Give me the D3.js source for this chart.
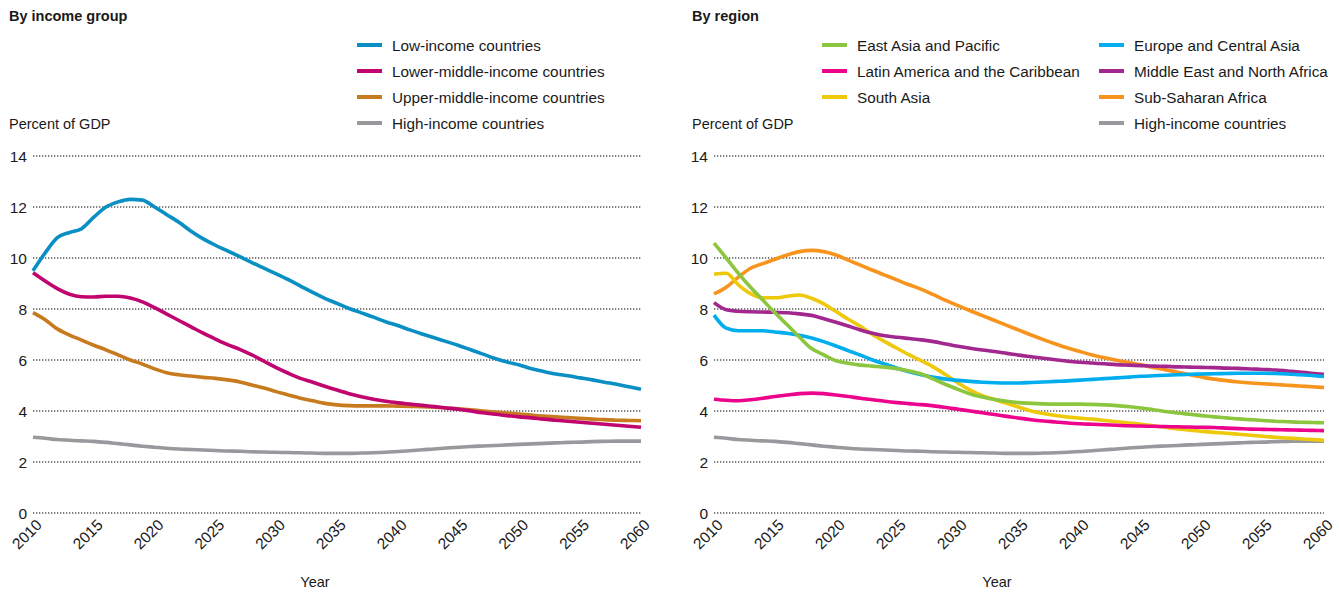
<!DOCTYPE html>
<html><head><meta charset="utf-8">
<script src="https://cdn.jsdelivr.net/npm/d3@7"></script>
<style>
body{margin:0;background:#fff;}
text{font-family:"Liberation Sans",Arial,sans-serif;fill:#1a1a1a;}
</style></head><body>
<svg id="chart" width="1339" height="592"></svg>
<script>
const years = d3.range(2010, 2061);
const yTicks = [0, 2, 4, 6, 8, 10, 12, 14];
const xTicks = [2010, 2015, 2020, 2025, 2030, 2035, 2040, 2045, 2050, 2055, 2060];

const lowIncome = [9.5,10.2,10.8,11.0,11.15,11.6,12.0,12.2,12.3,12.27,12.0,11.7,11.4,11.05,10.75,10.5,10.28,10.05,9.82,9.6,9.38,9.15,8.9,8.65,8.42,8.22,8.02,7.85,7.68,7.5,7.35,7.18,7.02,6.87,6.72,6.57,6.4,6.23,6.06,5.92,5.8,5.66,5.55,5.45,5.38,5.3,5.22,5.13,5.05,4.95,4.85];
const lowerMiddle = [9.42,9.1,8.8,8.58,8.48,8.47,8.5,8.5,8.43,8.28,8.05,7.8,7.55,7.3,7.05,6.82,6.6,6.42,6.2,5.95,5.7,5.48,5.28,5.13,4.97,4.82,4.68,4.56,4.46,4.38,4.32,4.27,4.22,4.17,4.12,4.07,4.0,3.93,3.87,3.82,3.77,3.73,3.68,3.64,3.6,3.56,3.52,3.48,3.44,3.4,3.36];
const upperMiddle = [7.86,7.58,7.22,6.98,6.78,6.58,6.4,6.2,6.0,5.84,5.65,5.5,5.42,5.37,5.32,5.28,5.22,5.14,5.02,4.9,4.76,4.63,4.5,4.4,4.3,4.24,4.21,4.2,4.2,4.2,4.19,4.18,4.17,4.15,4.12,4.09,4.05,4.0,3.96,3.92,3.88,3.84,3.8,3.77,3.74,3.71,3.68,3.66,3.64,3.63,3.62];
const highIncome = [2.97,2.93,2.88,2.85,2.83,2.81,2.77,2.72,2.67,2.62,2.58,2.54,2.51,2.49,2.47,2.45,2.43,2.42,2.4,2.39,2.38,2.37,2.36,2.35,2.34,2.34,2.34,2.35,2.36,2.38,2.41,2.44,2.48,2.51,2.55,2.58,2.61,2.63,2.65,2.67,2.69,2.71,2.73,2.75,2.77,2.78,2.8,2.81,2.82,2.82,2.82];

const eastAsia = [10.58,10.0,9.4,8.85,8.35,7.85,7.38,6.9,6.45,6.2,5.97,5.87,5.8,5.76,5.72,5.66,5.57,5.45,5.25,5.04,4.85,4.67,4.55,4.45,4.38,4.33,4.3,4.28,4.27,4.27,4.27,4.26,4.24,4.21,4.17,4.12,4.05,3.98,3.92,3.87,3.82,3.77,3.73,3.69,3.66,3.63,3.6,3.58,3.56,3.55,3.54];
const europeCA = [7.76,7.25,7.15,7.15,7.15,7.1,7.05,6.97,6.86,6.72,6.55,6.37,6.19,6.0,5.84,5.68,5.54,5.42,5.32,5.25,5.2,5.16,5.13,5.11,5.1,5.1,5.12,5.14,5.16,5.18,5.21,5.24,5.27,5.3,5.33,5.36,5.38,5.4,5.42,5.44,5.45,5.46,5.47,5.48,5.48,5.48,5.47,5.45,5.42,5.39,5.35];
const latinAm = [4.46,4.42,4.4,4.44,4.5,4.57,4.63,4.68,4.7,4.68,4.63,4.57,4.5,4.44,4.38,4.33,4.29,4.25,4.2,4.14,4.07,4.0,3.93,3.86,3.79,3.72,3.66,3.61,3.57,3.53,3.5,3.48,3.46,3.44,3.42,3.41,3.4,3.39,3.38,3.37,3.36,3.35,3.33,3.31,3.29,3.28,3.27,3.26,3.25,3.24,3.23];
const middleEast = [8.25,7.97,7.91,7.89,7.88,7.87,7.85,7.81,7.75,7.62,7.48,7.33,7.18,7.05,6.95,6.89,6.84,6.79,6.72,6.63,6.54,6.46,6.39,6.33,6.26,6.19,6.13,6.07,6.01,5.95,5.91,5.88,5.85,5.82,5.8,5.78,5.76,5.75,5.73,5.72,5.71,5.7,5.68,5.67,5.65,5.63,5.61,5.57,5.53,5.48,5.44];
const southAsia = [9.36,9.4,8.95,8.6,8.44,8.44,8.5,8.55,8.42,8.2,7.9,7.6,7.32,7.0,6.72,6.46,6.2,5.97,5.72,5.42,5.1,4.82,4.6,4.45,4.3,4.15,4.0,3.9,3.82,3.76,3.72,3.68,3.63,3.58,3.53,3.48,3.42,3.36,3.3,3.25,3.2,3.16,3.13,3.09,3.05,3.01,2.97,2.94,2.91,2.88,2.85];
const subSaharan = [8.59,8.85,9.25,9.6,9.78,9.95,10.12,10.25,10.3,10.25,10.12,9.92,9.72,9.52,9.33,9.14,8.95,8.77,8.56,8.34,8.13,7.93,7.74,7.55,7.36,7.17,6.98,6.8,6.63,6.47,6.33,6.2,6.09,5.99,5.9,5.81,5.71,5.62,5.52,5.42,5.33,5.25,5.19,5.14,5.1,5.07,5.04,5.01,4.98,4.95,4.92];

const incomeNames = ["Low-income countries","Lower-middle-income countries","Upper-middle-income countries","High-income countries"];
const regionNames = ["East Asia and Pacific","Europe and Central Asia","Latin America and the Caribbean","Middle East and North Africa","South Asia","Sub-Saharan Africa","High-income countries"];

const incomeSeries = [
  {name: incomeNames[0], values: lowIncome, color: "#0a8fc4"},
  {name: incomeNames[1], values: lowerMiddle, color: "#c0056f"},
  {name: incomeNames[2], values: upperMiddle, color: "#c87a1f"},
  {name: incomeNames[3], values: highIncome, color: "#99999d"}
];
const regionSeries = [
  {name: regionNames[0], values: eastAsia, color: "#8cc63f"},
  {name: regionNames[1], values: europeCA, color: "#00adee"},
  {name: regionNames[2], values: latinAm, color: "#ec048c"},
  {name: regionNames[3], values: middleEast, color: "#a2278f"},
  {name: regionNames[4], values: southAsia, color: "#eec80a"},
  {name: regionNames[5], values: subSaharan, color: "#f7941e"},
  {name: regionNames[6], values: highIncome, color: "#99999d"}
];

const svg = d3.select("#chart");

function panel(opts) {
  const g = svg.append("g");
  const x = d3.scaleLinear().domain([2010, 2060]).range([opts.x0, opts.x1]);
  const y = d3.scaleLinear().domain([0, 14]).range([513, 156]);

  g.append("text").attr("x", opts.left).attr("y", 21)
    .style("font-size", "14.5px").style("font-weight", "bold").text(opts.title);
  g.append("text").attr("x", opts.left).attr("y", 129)
    .style("font-size", "14.5px").text("Percent of GDP");

  // grid
  g.selectAll(".grid").data(yTicks).enter().append("line")
    .attr("x1", x(2010)).attr("x2", x(2060))
    .attr("y1", d => y(d)).attr("y2", d => y(d))
    .attr("stroke", "#555").attr("stroke-width", 1.3)
    .attr("stroke-dasharray", "1.3,1.7");

  g.selectAll(".ylab").data(yTicks).enter().append("text")
    .attr("x", x(2010) - 6).attr("y", d => y(d)).attr("dy", "0.36em")
    .attr("text-anchor", "end").style("font-size", "15.5px").text(d => d);

  g.selectAll(".xlab").data(xTicks).enter().append("text")
    .attr("transform", d => `translate(${x(d) + 6},${522}) rotate(-45)`)
    .attr("text-anchor", "end").attr("dy", "0.36em")
    .style("font-size", "15.5px").text(d => d);

  g.append("text").attr("x", (x(2010) + x(2060)) / 2 - 22).attr("y", 587)
    .attr("text-anchor", "middle").style("font-size", "14.5px").text("Year");

  const line = d3.line().x((d, i) => x(years[i])).y(d => y(d)).curve(d3.curveMonotoneX);
  const drawOrder = opts.series.slice().reverse();
  g.selectAll(".series").data(drawOrder).enter().append("path")
    .attr("d", d => line(d.values)).attr("fill", "none")
    .attr("stroke", d => d.color).attr("stroke-width", 3.6)
    .attr("stroke-linejoin", "round");

  // legend
  opts.legend.forEach(item => {
    const s = opts.series.find(d => d.name === item.name);
    g.append("line").attr("x1", item.x).attr("x2", item.x + 25)
      .attr("y1", item.y).attr("y2", item.y)
      .attr("stroke", s.color).attr("stroke-width", 4);
    g.append("text").attr("x", item.x + 35).attr("y", item.y).attr("dy", "0.36em")
      .style("font-size", "15.3px").text(s.name);
  });
}

panel({
  title: "By income group", left: 9, x0: 33, x1: 641, series: incomeSeries,
  legend: [
    {name: incomeNames[0], x: 357, y: 45},
    {name: incomeNames[1], x: 357, y: 71},
    {name: incomeNames[2], x: 357, y: 97},
    {name: incomeNames[3], x: 357, y: 123}
  ]
});
panel({
  title: "By region", left: 692, x0: 714, x1: 1324, series: regionSeries,
  legend: [
    {name: regionNames[0], x: 822, y: 45},
    {name: regionNames[2], x: 822, y: 71},
    {name: regionNames[4], x: 822, y: 97},
    {name: regionNames[1], x: 1099, y: 45},
    {name: regionNames[3], x: 1099, y: 71},
    {name: regionNames[5], x: 1099, y: 97},
    {name: regionNames[6], x: 1099, y: 123}
  ]
});
</script></body></html>
